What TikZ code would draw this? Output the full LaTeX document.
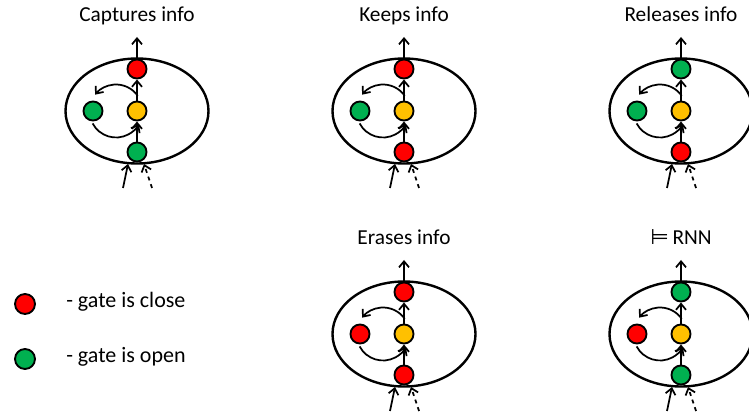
\documentclass[tikz,border=0pt]{standalone}
\usepackage{fontspec}
\setmainfont{Carlito}
\newfontfamily\symfam{DejaVu Sans}
\usetikzlibrary{arrows.meta}
\definecolor{gred}{RGB}{255,0,0}
\definecolor{ggreen}{RGB}{0,176,80}
\definecolor{gyellow}{RGB}{255,192,0}
\tikzset{
  gate/.style={circle,draw,line width=1.4pt,minimum size=14.3pt,inner sep=0pt},
  wire/.style={line width=1.3pt,->},
  cell/.style={line width=1.8pt},
  keytext/.style={anchor=mid west,inner sep=0pt,font=\fontsize{16.5}{20}\selectfont},
}
\begin{document}
\begin{tikzpicture}[x=0.75pt,y=0.75pt,>={Straight Barb[length=4.5pt,width=7.5pt]},
  font=\fontsize{16}{19}\selectfont]
\useasboundingbox (0,0) rectangle (749,414);
% one memory cell per entry: x/y of centre, name, title, top/left/bottom gate
\foreach \X/\Y/\n/\ttl/\ct/\cl/\cb in {
  137/303/cap/Captures info/gred/ggreen/ggreen,
  404/303/keep/Keeps info/gred/ggreen/gred,
  681/303/rel/Releases info/ggreen/ggreen/gred,
  404/80/erase/Erases info/gred/gred/gred,
  681/80/rnn/{{\symfam ⊨}\,RNN}/ggreen/gred/ggreen}{
  \draw[cell] (\X,\Y) ellipse [x radius=71.5,y radius=52.5];
  \node[anchor=base] (title\n) at (\X,\Y+89) {\ttl};
  \node[gate,fill=\ct] (top\n) at (\X,\Y+42) {};
  \node[gate,fill=gyellow] (mid\n) at (\X,\Y) {};
  \node[gate,fill=\cb] (bot\n) at (\X,\Y-41) {};
  \node[gate,fill=\cl] (left\n) at (\X-44,\Y) {};
  \coordinate (out\n) at (\X,\Y+74);
  \coordinate (in\n) at (\X-14,\Y-77);
  \coordinate (inend\n) at (\X-9,\Y-53);
  \coordinate (hin\n) at (\X+15,\Y-77);
  \coordinate (hinend\n) at (\X+7,\Y-53);
  \draw[wire] (bot\n) -- (mid\n);
  \draw[wire] (mid\n) -- (top\n);
  \draw[wire] (top\n) -- (out\n);
  \draw[wire] (in\n) -- (inend\n);
  \draw[wire,dashed] (hin\n) -- (hinend\n);
  % loop through the left gate
  \draw[wire] ([shift={(35:26.5)}]\X-21,\Y) arc[start angle=35,end angle=142,radius=26.5];
  \draw[wire] ([shift={(208:26.5)}]\X-21,\Y) arc[start angle=208,end angle=330,radius=26.5];
}
% key
\node[gate,fill=gred,minimum size=15pt] (keyclose) at (25,110) {};
\node[keytext] (txtclose) at (66,110) {- gate is close};
\node[gate,fill=ggreen,minimum size=15pt] (keyopen) at (25,55) {};
\node[keytext] (txtopen) at (66,55) {- gate is open};
\end{tikzpicture}
\end{document}
